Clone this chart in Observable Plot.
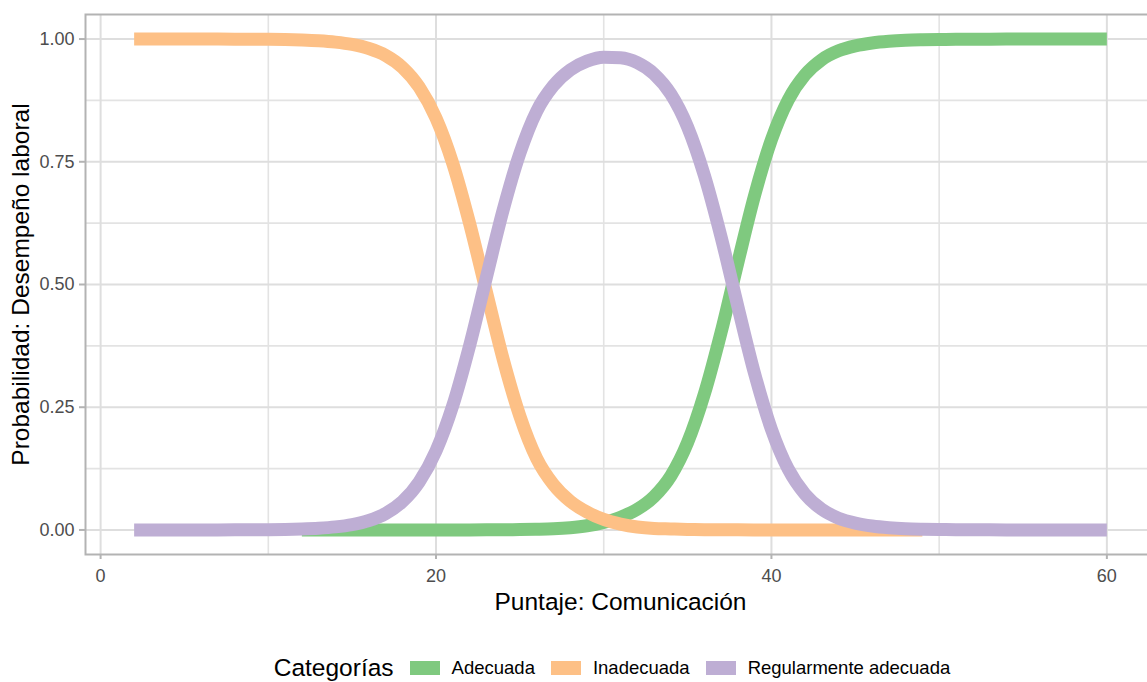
<!DOCTYPE html>
<html><head><meta charset="utf-8">
<script src="https://cdn.jsdelivr.net/npm/d3@7"></script>
<script src="https://cdn.jsdelivr.net/npm/@observablehq/plot@0.6"></script>
<style>
html,body{margin:0;padding:0;overflow:hidden;background:#fff;width:1147px;height:682px}
#chart{position:absolute;left:0;top:0;width:1160px}
#chart svg{max-width:none !important;width:1160px;height:630px}
#legend{position:absolute;left:0;top:655px;width:1240px;height:26px;display:flex;justify-content:center;align-items:center;font-family:"Liberation Sans",Arial,sans-serif;color:#000;white-space:nowrap}
#legend .title{font-size:24.5px;margin-right:16px}
#legend .key{display:inline-block;width:30px;height:14px;margin-right:12px}
#legend .lab{font-size:18.5px;margin-right:16px}
</style></head>
<body><div id="chart"></div><div id="legend"></div>
<script>
const puntaje = [2,3,4,5,6,7,8,9,10,11,12,13,14,15,16,17,18,19,20,21,22,23,24,25,26,27,28,29,30,31,32,33,34,35,36,37,38,39,40,41,42,43,44,45,46,47,48,49,50,51,52,53,54,55,56,57,58,59,60];
const adecuada = [null,null,null,null,null,null,null,null,null,null,
  0.0000,0.0000,0.0000,0.0000,0.0000,0.0000,0.0000,0.0000,0.0000,0.0001,0.0001,0.0002,0.0004,0.0007,0.0013,0.0023,0.0045,0.0085,0.0155,0.0260,0.0420,0.0680,0.1100,0.1780,0.2770,0.4030,0.5450,0.6820,0.7950,0.8760,0.9270,0.9580,0.9760,0.9860,0.9920,0.9955,0.9975,0.9985,0.9991,0.9995,0.9997,0.9998,0.9999,0.9999,1.0000,1.0000,1.0000,1.0000,1.0000];
const inadecuada = [1.0000,1.0000,1.0000,1.0000,0.9999,0.9999,0.9998,0.9996,0.9994,0.9989,0.9980,0.9965,0.9938,0.9890,0.9807,0.9665,0.9421,0.9020,0.8389,0.7465,0.6248,0.4857,0.3482,0.2320,0.1459,0.0927,0.0585,0.0365,0.0215,0.0120,0.0060,0.0030,0.0020,0.0010,0.0006,0.0003,0.0002,0.0001,0.0000,0.0000,0.0000,0.0000,0.0000,0.0000,0.0000,0.0000,0.0000,0.0000,
  null,null,null,null,null,null,null,null,null,null,null];
const regular = [0.0000,0.0000,0.0000,0.0000,0.0001,0.0001,0.0002,0.0004,0.0006,0.0011,0.0020,0.0035,0.0062,0.0110,0.0193,0.0335,0.0579,0.0980,0.1611,0.2534,0.3751,0.5141,0.6514,0.7673,0.8528,0.9050,0.9370,0.9550,0.9630,0.9620,0.9520,0.9290,0.8880,0.8210,0.7224,0.5967,0.4548,0.3179,0.2050,0.1240,0.0730,0.0420,0.0240,0.0140,0.0080,0.0045,0.0025,0.0015,0.0009,0.0005,0.0003,0.0002,0.0001,0.0001,0.0000,0.0000,0.0000,0.0000,0.0000];
const categorias = ["Adecuada","Inadecuada","Regularmente adecuada"];
const colores = ["#7FC97F","#FDC086","#BEAED4"];
const xMajor = [0,20,40,60];
const xMinor = [10,30,50];
const yMajor = [0,0.25,0.5,0.75,1];
const yMinor = [0.125,0.375,0.625,0.875];
const xTitle = "Puntaje: Comunicación";
const yTitle = "Probabilidad: Desempeño laboral";
const legendTitle = "Categorías";

const series = [adecuada, inadecuada, regular];
const rows = categorias.map((c, k) => puntaje.map((x, i) => ({x, y: series[k][i], cat: c})));

const lineOpts = {x: "x", y: "y", stroke: "cat", strokeWidth: 13, strokeLinecap: "butt", strokeLinejoin: "round", curve: "monotone-x"};

const plot = Plot.plot({
  width: 1160, height: 630,
  marginLeft: 85, marginRight: 5, marginTop: 14, marginBottom: 76,
  x: {domain: [-0.9, 62.9]},
  y: {domain: [-0.05, 1.05]},
  color: {domain: categorias, range: colores},
  style: {fontFamily: "'Liberation Sans', Arial, sans-serif", fontSize: "18px", background: "#fff", overflow: "visible", maxWidth: "none"},
  marks: [
    Plot.ruleX(xMinor, {stroke: "#e3e3e3", strokeWidth: 1.6}),
    Plot.ruleY(yMinor, {stroke: "#e3e3e3", strokeWidth: 1.6}),
    Plot.ruleX(xMajor, {stroke: "#dedede", strokeWidth: 2}),
    Plot.ruleY(yMajor, {stroke: "#dedede", strokeWidth: 2}),
    Plot.line(rows[0], lineOpts),
    Plot.line(rows[1], lineOpts),
    Plot.line(rows[2], lineOpts),
    Plot.frame({stroke: "#b3b3b3", strokeWidth: 2}),
    Plot.axisX(xMajor, {tickSize: 5, tickPadding: 10, stroke: "#b3b3b3", strokeWidth: 2, fill: "#4d4d4d", label: null, tickFormat: d => String(d), fontSize: 18}),
    Plot.axisY(yMajor, {tickSize: 6, tickPadding: 5, stroke: "#b3b3b3", strokeWidth: 2, fill: "#4d4d4d", label: null, tickFormat: d3.format(".2f"), fontSize: 18}),
    Plot.text([xTitle], {text: d => d, frameAnchor: "bottom", dy: 55, fontSize: 24.5, fill: "#000", textAnchor: "middle"}),
    Plot.text([yTitle], {text: d => d, frameAnchor: "left", dx: -64, rotate: -90, fontSize: 24.5, fill: "#000", textAnchor: "middle"})
  ]
});
document.getElementById("chart").appendChild(plot);

const lg = document.getElementById("legend");
const t = document.createElement("span"); t.className = "title"; t.textContent = legendTitle; lg.appendChild(t);
categorias.forEach((c, i) => {
  const k = document.createElement("span"); k.className = "key"; k.style.background = colores[i]; lg.appendChild(k);
  const l = document.createElement("span"); l.className = "lab"; l.textContent = c; lg.appendChild(l);
});
</script>
</body></html>
